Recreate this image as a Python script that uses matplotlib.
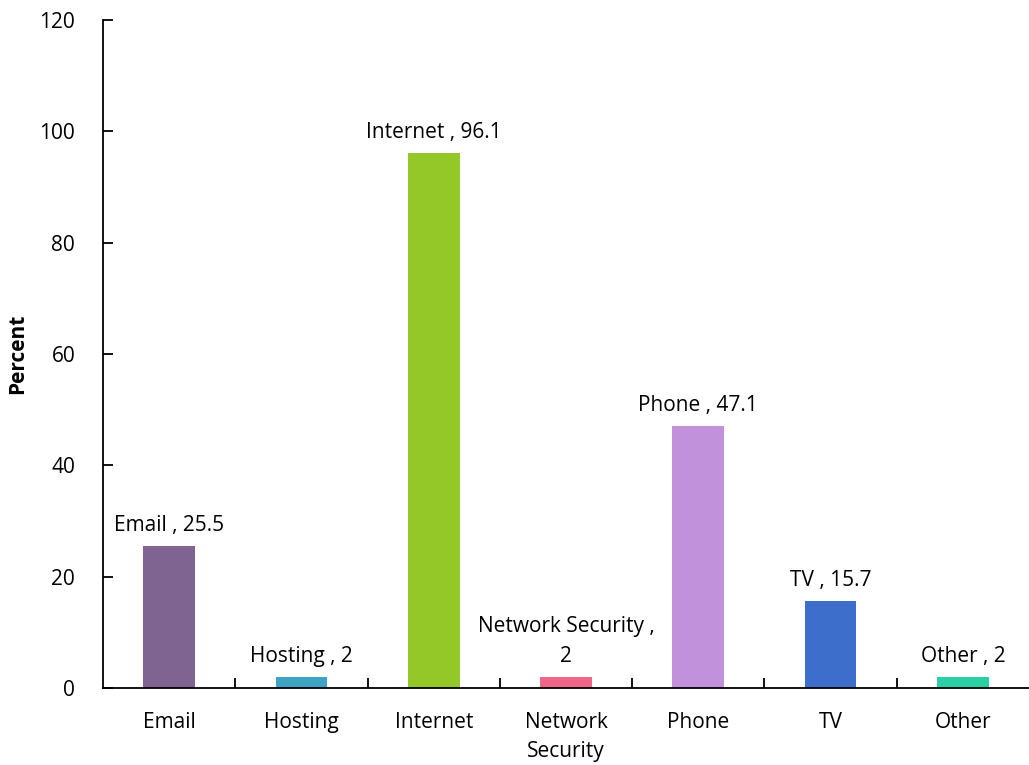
import matplotlib.pyplot as plt
from matplotlib.ticker import FixedLocator

# data
categories = ["Email", "Hosting", "Internet", "Network Security", "Phone", "TV", "Other"]
tick_labels = ["Email", "Hosting", "Internet", "Network\nSecurity", "Phone", "TV", "Other"]
values = [25.5, 2, 96.1, 2, 47.1, 15.7, 2]
bar_labels = ["Email , 25.5", "Hosting , 2", "Internet , 96.1", "Network Security ,\n2",
              "Phone , 47.1", "TV , 15.7", "Other , 2"]
colors = ["#7f6390", "#3fa3c4", "#94c728", "#f06688", "#c192db", "#3e6ecc", "#2bcfa4"]

plt.rcParams['font.family'] = ['Open Sans', 'DejaVu Sans']
fs = 15

fig = plt.figure(figsize=(10.29, 7.65), dpi=100)
ax = fig.add_axes([0.1001, 0.1007, 0.8999, 0.8732])

x = list(range(len(categories)))
bars = ax.bar(x, values, width=0.39, color=colors)

for b, lab in zip(bars, bar_labels):
    ax.annotate(lab, (b.get_x() + b.get_width() / 2, b.get_height()),
                xytext=(0, 7), textcoords="offset points",
                ha="center", va="bottom", fontsize=fs, linespacing=1.55)

ax.set_xlim(-0.5, len(categories) - 0.5)
ax.set_ylim(0, 120)
ax.set_yticks(range(0, 121, 20))
ax.set_xticks(x)
ax.set_xticklabels(tick_labels, fontsize=fs, linespacing=1.55)
ax.xaxis.set_minor_locator(FixedLocator([i + 0.5 for i in range(len(categories) - 1)]))
ax.tick_params(axis="x", which="major", length=0, pad=17)
ax.tick_params(axis="x", which="minor", direction="in", length=7, width=1.3)
ax.tick_params(axis="y", direction="in", length=7, width=1.3, labelsize=fs, pad=20)

ax.spines["top"].set_visible(False)
ax.spines["right"].set_visible(False)
for s in ("left", "bottom"):
    ax.spines[s].set_linewidth(1.3)

ax.set_ylabel("Percent", fontsize=fs, fontweight="bold", va="center")
ax.yaxis.set_label_coords(-0.092, 0.5)

fig.savefig("out.png", dpi=100)
